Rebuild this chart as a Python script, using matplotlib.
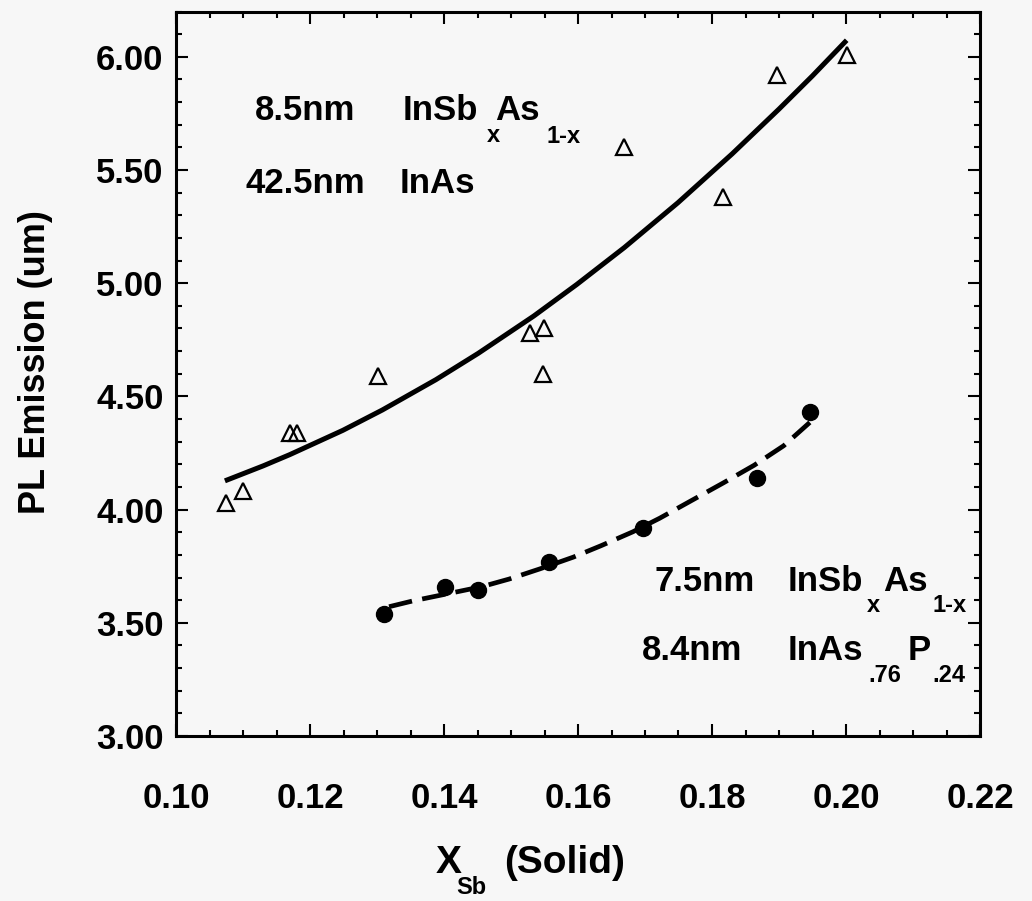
import matplotlib
matplotlib.use("Agg")
import matplotlib.pyplot as plt
from matplotlib.ticker import MultipleLocator, FormatStrFormatter

plt.rcParams["font.family"] = ["Liberation Sans", "DejaVu Sans"]
plt.rcParams["font.weight"] = "bold"

# 8.5nm InSbAs / 42.5nm InAs samples (open triangles)
x_tri = [0.1075, 0.1100, 0.1170, 0.1180, 0.1301, 0.1528, 0.1549, 0.1548,
         0.1669, 0.1817, 0.1897, 0.2001]
y_tri = [4.03, 4.08, 4.34, 4.34, 4.59, 4.78, 4.80, 4.60,
         5.60, 5.38, 5.92, 6.01]

# 7.5nm InSbAs / 8.4nm InAsP samples (filled circles)
x_dot = [0.1311, 0.1401, 0.1450, 0.1557, 0.1697, 0.1867, 0.1947]
y_dot = [3.54, 3.66, 3.645, 3.77, 3.92, 4.14, 4.43]

# fitted curves
x_fit1 = [0.1073, 0.1130, 0.1170, 0.1249, 0.1308, 0.1388, 0.1451, 0.1534,
          0.1598, 0.1669, 0.1749, 0.1830, 0.1900, 0.1950, 0.2001]
y_fit1 = [4.127, 4.193, 4.243, 4.350, 4.440, 4.574, 4.690, 4.855,
          4.994, 5.157, 5.355, 5.571, 5.769, 5.916, 6.073]
x_fit2 = [0.1318, 0.1354, 0.1405, 0.1457, 0.1497, 0.1543, 0.1593, 0.1634,
          0.1682, 0.1722, 0.1767, 0.1817, 0.1863, 0.1907, 0.1946]
y_fit2 = [3.571, 3.597, 3.628, 3.660, 3.693, 3.738, 3.790, 3.840,
          3.902, 3.962, 4.036, 4.118, 4.196, 4.282, 4.385]

xticks = [0.10, 0.12, 0.14, 0.16, 0.18, 0.20, 0.22]
yticks = [3.00, 3.50, 4.00, 4.50, 5.00, 5.50, 6.00]

W, H = 1032, 901
fig = plt.figure(figsize=(W / 100, H / 100), dpi=100, facecolor="#f7f7f7")
ax = fig.add_axes([176 / W, 1 - 736 / H, (980 - 176) / W, (736 - 11.5) / H])
ax.set_facecolor("#f7f7f7")

ax.plot(x_fit1, y_fit1, color="black", lw=3.6, solid_capstyle="butt", zorder=2)
ax.plot(x_fit2, y_fit2, color="black", lw=3.4, linestyle=(0, (5.0, 2.2)), zorder=2)
ax.plot(x_tri, y_tri, linestyle="none", marker="^", markersize=11,
        markerfacecolor="none", markeredgecolor="black", markeredgewidth=1.6, zorder=3)
ax.plot(x_dot, y_dot, linestyle="none", marker="o", markersize=11.5,
        markerfacecolor="black", markeredgecolor="black", zorder=3)

ax.set_xlim(0.10, 0.22)
ax.set_ylim(3.0, 6.2)
ax.set_xticks(xticks)
ax.set_yticks(yticks)
ax.xaxis.set_major_formatter(FormatStrFormatter("%.2f"))
ax.yaxis.set_major_formatter(FormatStrFormatter("%.2f"))
ax.xaxis.set_minor_locator(MultipleLocator(0.005))
ax.yaxis.set_minor_locator(MultipleLocator(0.1))

ax.tick_params(which="both", direction="in", top=True, right=True, width=1.5, color="black")
ax.tick_params(which="major", length=8.5)
ax.tick_params(which="minor", length=4.5)
ax.tick_params(axis="x", which="major", pad=33, labelsize=25)
ax.tick_params(axis="y", which="major", pad=9, labelsize=25)
for lab in ax.get_xticklabels() + ax.get_yticklabels():
    lab.set_fontweight("bold")
for sp in ax.spines.values():
    sp.set_linewidth(2.2)


def put(px, py, s, size=25):
    fig.text(px / W, 1 - py / H, s, ha="left", va="baseline",
             fontsize=size, fontweight="bold", color="black")


# upper annotation
put(255, 120, "8.5nm")
put(403, 120, "InSb")
put(487, 142, "x", 17)
put(495, 120, "As")
put(547, 143, "1-x", 17)
put(245, 193, "42.5nm")
put(400, 193, "InAs")

# lower annotation
put(655, 591, "7.5nm")
put(788, 591, "InSb")
put(867, 612, "x", 17)
put(883, 591, "As")
put(932, 612, "1-x", 17)
put(642, 660, "8.4nm")
put(788, 660, "InAs")
put(868, 682, ".76", 17)
put(908, 660, "P")
put(932, 682, ".24", 17)

# axis titles
put(436, 873, "X", 28)
put(456, 894, "Sb", 17)
put(504, 873, "(Solid)", 28)
fig.text(36 / W, 1 - 362 / H, "PL Emission (um)", rotation=90, ha="center", va="center",
         fontsize=26, fontweight="bold")

fig.savefig("out.png", dpi=100, facecolor=fig.get_facecolor())
